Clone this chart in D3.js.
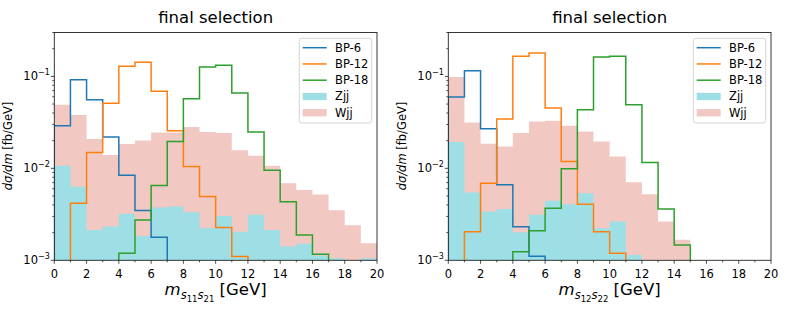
<!DOCTYPE html>
<html>
<head>
<meta charset="utf-8">
<script src="https://d3js.org/d3.v7.min.js"></script>
<style>
  body { margin: 0; background: #fff; }
  text { font-family: "DejaVu Sans", sans-serif; fill: #000; }
</style>
</head>
<body>
<script>
// bin edges in GeV (1 GeV bins)
var binEdges = [0,1,2,3,4,5,6,7,8,9,10,11,12,13,14,15,16,17,18,19,20];
var seriesNames = ["BP-6", "BP-12", "BP-18", "Zjj", "Wjj"];

// left panel: m_{s11 s21}
var wjjLeft  = [0.049, 0.038, 0.0208, 0.0140, 0.0184, 0.0201, 0.0246, 0.0246, 0.0281, 0.0248, 0.0242, 0.0157, 0.0137, 0.0107, 0.0069, 0.0058, 0.0052, 0.0035, 0.0024, 0.00153];
var zjjLeft  = [0.0107, 0.0063, 0.00214, 0.00233, 0.0032, 0.00184, 0.00375, 0.00385, 0.00333, 0.00223, 0.00304, 0.00205, 0.00312, 0.00214, 0.00141, 0.00151, 0.00112, 0.00105, 0, 0.00105];
var bp6Left  = [0.0291, 0.092, 0.0558, 0.0219, 0.0084, 0.00348, 0.00178, 0, 0, 0, 0, 0, 0, 0, 0, 0, 0, 0, 0, 0];
var bp12Left = [0, 0.00418, 0.0149, 0.0509, 0.129, 0.142, 0.0688, 0.0256, 0.0105, 0.00494, 0.00227, 0.0011, 0, 0, 0, 0, 0, 0, 0, 0];
var bp18Left = [0, 0, 0, 0, 0.00119, 0.00275, 0.0065, 0.0196, 0.0572, 0.1265, 0.132, 0.0659, 0.0248, 0.00955, 0.00432, 0.00189, 0.00116, 0, 0, 0];

// right panel: m_{s12 s22}
var wjjRight  = [0.0985, 0.0316, 0.0185, 0.0173, 0.0242, 0.0324, 0.033, 0.0291, 0.0252, 0.0196, 0.01346, 0.00708, 0.00524, 0.00264, 0.00167, 0, 0, 0, 0, 0];
var zjjRight  = [0.0193, 0.00546, 0.00339, 0.00362, 0.00202, 0.00312, 0.00443, 0.00407, 0.00537, 0.00223, 0.00264, 0.00114, 0, 0, 0, 0, 0, 0, 0, 0];
var bp6Right  = [0.0597, 0.1154, 0.027, 0.00662, 0.00231, 0.00111, 0, 0, 0, 0, 0, 0, 0, 0, 0, 0, 0, 0, 0, 0];
var bp12Right = [0, 0.00205, 0.0069, 0.0344, 0.1655, 0.18, 0.0453, 0.0119, 0.00407, 0.00205, 0.00119, 0, 0, 0, 0, 0, 0, 0, 0, 0];
var bp18Right = [0, 0, 0, 0, 0.00124, 0.00209, 0.00369, 0.00988, 0.0434, 0.1626, 0.1655, 0.0492, 0.0116, 0.00362, 0.00147, 0, 0, 0, 0, 0];

var xTicks = [0,2,4,6,8,10,12,14,16,18,20];
var yTicks = [1e-3, 1e-2, 1e-1];
var yTickExp = ["\u22123", "\u22122", "\u22121"];

var colors = { "BP-6": "#1f77b4", "BP-12": "#ff7f0e", "BP-18": "#2ca02c", "Zjj": "#9ddfe4", "Wjj": "#f2c9c2" };

var svg = d3.select("body").append("svg")
    .attr("width", 789)
    .attr("height", 309);

var plotTop = 32.5, plotBottom = 260.3;
var y = d3.scaleLog().domain([1e-3, 0.3]).range([plotBottom, plotTop]);

function drawPanel(id, left, right, data, subA, subB, legendX) {
  var x = d3.scaleLinear().domain([0, 20]).range([left, right]);
  var g = svg.append("g");

  svg.append("clipPath").attr("id", "clip" + id)
    .append("rect").attr("x", left).attr("y", plotTop)
    .attr("width", right - left).attr("height", plotBottom - plotTop);

  var below = plotBottom + 10;
  function stepPath(vals) {
    var p = d3.path();
    p.moveTo(x(binEdges[0]), below);
    vals.forEach(function(v, i) {
      var yy = v > 0 ? y(v) : below;
      p.lineTo(x(binEdges[i]), yy);
      p.lineTo(x(binEdges[i + 1]), yy);
    });
    p.lineTo(x(binEdges[vals.length]), below);
    return p;
  }

  var plot = g.append("g").attr("clip-path", "url(#clip" + id + ")");

  // filled backgrounds
  [["Wjj", data.wjj], ["Zjj", data.zjj]].forEach(function(s) {
    var p = stepPath(s[1]);
    p.closePath();
    plot.append("path").attr("d", p.toString())
      .attr("fill", colors[s[0]]).attr("stroke", "none");
  });

  // signal step lines
  [["BP-6", data.bp6], ["BP-12", data.bp12], ["BP-18", data.bp18]].forEach(function(s) {
    plot.append("path").attr("d", stepPath(s[1]).toString())
      .attr("fill", "none").attr("stroke", colors[s[0]])
      .attr("stroke-width", 1.5).attr("stroke-linejoin", "miter");
  });

  // frame
  g.append("rect").attr("x", left).attr("y", plotTop)
    .attr("width", right - left).attr("height", plotBottom - plotTop)
    .attr("fill", "none").attr("stroke", "#222").attr("stroke-width", 0.9);

  // x ticks
  d3.range(0, 21).forEach(function(v) {
    var major = v % 2 === 0;
    g.append("line").attr("x1", x(v)).attr("x2", x(v))
      .attr("y1", plotBottom).attr("y2", plotBottom + (major ? 3.5 : 2))
      .attr("stroke", "#222").attr("stroke-width", 0.8);
  });
  xTicks.forEach(function(v) {
    g.append("text").attr("x", x(v)).attr("y", 277.5)
      .attr("text-anchor", "middle").attr("font-size", "11.5px").text(v);
  });

  // y ticks (log)
  [1e-3, 1e-2, 1e-1].forEach(function(dec) {
    for (var m = 1; m <= 9; m++) {
      var v = dec * m;
      if (v > 0.3 + 1e-9) break;
      g.append("line").attr("x1", left).attr("x2", left - (m === 1 ? 3.5 : 2))
        .attr("y1", y(v)).attr("y2", y(v))
        .attr("stroke", "#222").attr("stroke-width", 0.8);
    }
  });
  yTicks.forEach(function(v, i) {
    var t = g.append("text").attr("x", left - 4.5).attr("y", y(v) + 4)
      .attr("text-anchor", "end").attr("font-size", "11.5px");
    t.append("tspan").text("10");
    t.append("tspan").attr("font-size", "8px").attr("dy", -5).text(yTickExp[i]);
  });

  // title
  g.append("text").attr("x", (left + right) / 2).attr("y", 23)
    .attr("text-anchor", "middle").attr("font-size", "16.5px").text("final selection");

  // x label
  var xl = g.append("text").attr("x", (left + right) / 2).attr("y", 295)
    .attr("text-anchor", "middle").attr("font-size", "16.5px");
  xl.append("tspan").attr("font-style", "italic").text("m");
  xl.append("tspan").attr("font-style", "italic").attr("font-size", "11.5px").attr("dy", 4).text("s");
  xl.append("tspan").attr("font-size", "8.5px").attr("dy", 2.5).text(subA);
  xl.append("tspan").attr("font-style", "italic").attr("font-size", "11.5px").attr("dy", -2.5).text("s");
  xl.append("tspan").attr("font-size", "8.5px").attr("dy", 2.5).text(subB);
  xl.append("tspan").attr("dy", -6.5).text("\u00a0[GeV]");

  // y label
  var yl = g.append("text")
    .attr("transform", "translate(" + (left - 42) + ",146) rotate(-90)")
    .attr("text-anchor", "middle").attr("font-size", "11.5px");
  yl.append("tspan").attr("font-style", "italic").text("d\u03c3/dm");
  yl.append("tspan").text(" [fb/GeV]");

  // legend
  var lg = g.append("g");
  lg.append("rect").attr("x", legendX).attr("y", 38.3)
    .attr("width", 72.4).attr("height", 84.7).attr("rx", 2.5)
    .attr("fill", "#fff").attr("fill-opacity", 0.8)
    .attr("stroke", "#d0d0d0").attr("stroke-width", 0.9);
  seriesNames.forEach(function(name, i) {
    var cy = 47.7 + i * 16.25;
    var hx = legendX + 3.4;
    if (i < 3) {
      lg.append("line").attr("x1", hx).attr("x2", hx + 24)
        .attr("y1", cy).attr("y2", cy)
        .attr("stroke", colors[name]).attr("stroke-width", 1.5);
    } else {
      lg.append("rect").attr("x", hx).attr("y", cy - 3.6)
        .attr("width", 24).attr("height", 7.3).attr("fill", colors[name]);
    }
    lg.append("text").attr("x", legendX + 35.7).attr("y", cy + 4)
      .attr("font-size", "11.5px").text(name);
  });
}

drawPanel("L", 54.3, 377, { wjj: wjjLeft, zjj: zjjLeft, bp6: bp6Left, bp12: bp12Left, bp18: bp18Left }, "11", "21", 299.3);
drawPanel("R", 448.3, 771, { wjj: wjjRight, zjj: zjjRight, bp6: bp6Right, bp12: bp12Right, bp18: bp18Right }, "12", "22", 693.3);
</script>
</body>
</html>
